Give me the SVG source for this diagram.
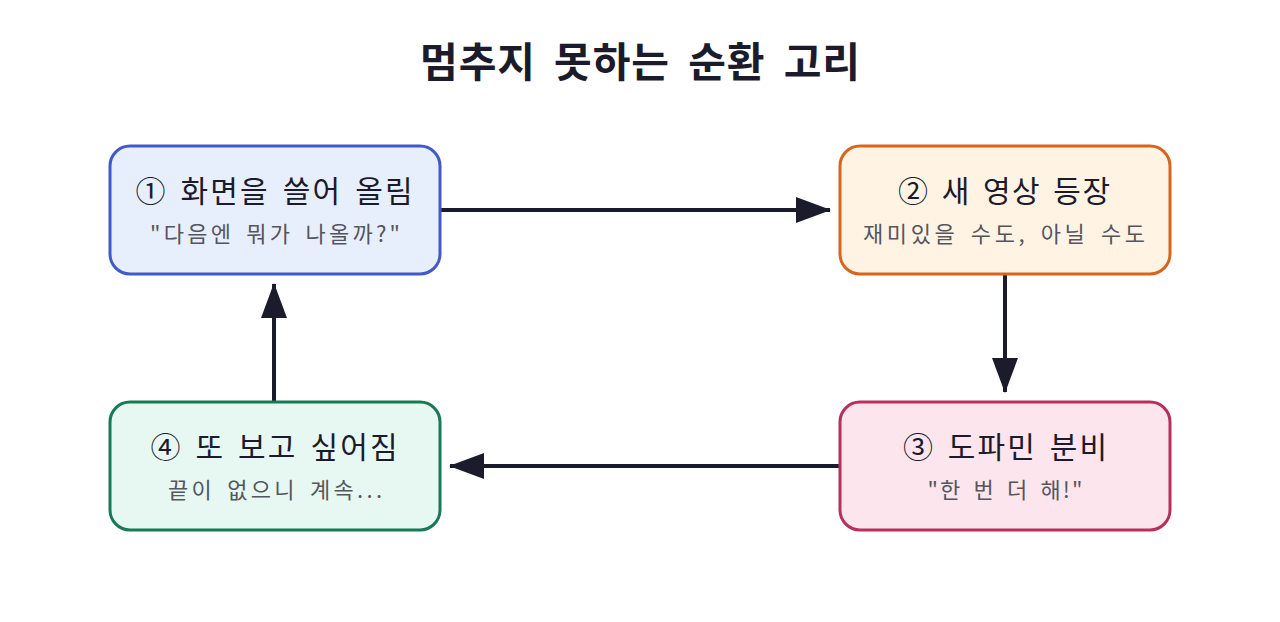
<svg xmlns="http://www.w3.org/2000/svg" width="1280" height="622" viewBox="0 0 1280 622">
<style>
.t{font-family:"Noto Sans CJK KR","Noto Sans",sans-serif;text-anchor:middle}
.title{font-size:41px;font-weight:700;fill:#1b1b2b;word-spacing:8px}
.h{font-size:30px;fill:#1b1b2b;word-spacing:4px}
.s{font-size:22px;fill:#555560;word-spacing:4px}
.box{stroke-width:3}
.c{stroke:#1b1b2b;stroke-width:4;fill:none;marker-end:url(#ah)}
</style>
<defs>
<marker id="ah" markerUnits="userSpaceOnUse" markerWidth="36" markerHeight="28" refX="34" refY="13" orient="auto">
<path d="M0,0 L35,13 L0,26 Z" fill="#1b1b2b"/>
</marker>
</defs>
<rect width="1280" height="622" fill="#ffffff"/>
<text class="t title" x="640" y="77" textLength="440" lengthAdjust="spacing">멈추지 못하는 순환 고리</text>
<g id="connectors">
<line class="c" x1="440" y1="210" x2="830" y2="210"/>
<line class="c" x1="1005" y1="274" x2="1005" y2="392"/>
<line class="c" x1="840" y1="466" x2="450" y2="466"/>
<line class="c" x1="274" y1="402" x2="274" y2="284"/>
</g>
<g id="node1">
<rect class="box" x="110" y="146" width="330" height="128" rx="20" fill="#e8effc" stroke="#4259c9"/>
<text class="t h" x="274" y="202" textLength="277" lengthAdjust="spacing">① 화면을 쓸어 올림</text>
<text class="t s" x="275" y="242" textLength="250" lengthAdjust="spacing">"다음엔 뭐가 나올까?"</text>
</g>
<g id="node2">
<rect class="box" x="840" y="146" width="330" height="128" rx="20" fill="#fff4e4" stroke="#d8651f"/>
<text class="t h" x="1004" y="202" textLength="212" lengthAdjust="spacing">② 새 영상 등장</text>
<text class="t s" x="1004" y="242" textLength="282" lengthAdjust="spacing">재미있을 수도, 아닐 수도</text>
</g>
<g id="node3">
<rect class="box" x="840" y="402" width="330" height="128" rx="20" fill="#fce5ed" stroke="#b6305e"/>
<text class="t h" x="1005" y="458" textLength="204" lengthAdjust="spacing">③ 도파민 분비</text>
<text class="t s" x="1005" y="498" textLength="155" lengthAdjust="spacing">"한 번 더 해!"</text>
</g>
<g id="node4">
<rect class="box" x="110" y="402" width="330" height="128" rx="20" fill="#e6f8f1" stroke="#157a55"/>
<text class="t h" x="274" y="458" textLength="247" lengthAdjust="spacing">④ 또 보고 싶어짐</text>
<text class="t s" x="275" y="498" textLength="214" lengthAdjust="spacing">끝이 없으니 계속...</text>
</g>
</svg>
